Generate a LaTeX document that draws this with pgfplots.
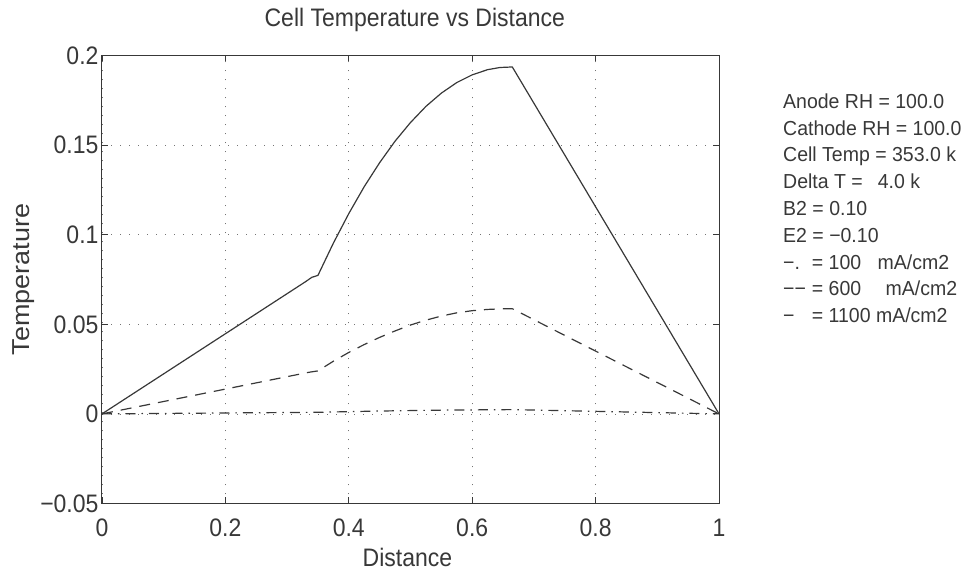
\documentclass[border=0pt]{standalone}
\usepackage{pgfplots}
\pgfplotsset{compat=1.18}
\usepackage{fontspec}
\setmainfont{Liberation Sans}
\definecolor{ink}{gray}{0.22}
\newcommand{\lgfont}{\fontsize{19.5}{23}\selectfont}
\begin{document}
\begin{tikzpicture}
\path[use as bounding box] (0,0) rectangle (964pt,570pt);
\begin{axis}[
  at={(102pt,66.5pt)}, anchor=south west,
  scale only axis, width=617pt, height=448pt,
  xmin=0, xmax=1, ymin=-0.05, ymax=0.2,
  xtick={0,0.2,0.4,0.6,0.8,1},
  xticklabels={0,0.2,0.4,0.6,0.8,1},
  ytick={-0.05,0,0.05,0.1,0.15,0.2},
  yticklabels={−0.05,0,0.05,0.1,0.15,0.2},
  tick align=inside, major tick length=6pt,
  tick style={ink, line width=0.8pt},
  axis line style={ink, line width=1pt},
  grid=major,
  major grid style={ink!70, line width=0.7pt, dash pattern=on 1pt off 8pt},
  ticklabel style={font=\fontsize{23}{27}\selectfont, text=ink, yscale=1.1},
  xticklabel style={anchor=base, yshift=-30pt},
  xlabel={Distance}, ylabel={\scalebox{1.1}[1]{Temperature}},
  xlabel style={font=\fontsize{23}{27}\selectfont, text=ink, at={(0.495,0)}, anchor=base, yshift=-63pt, yscale=1.1},
  ylabel style={font=\fontsize{24.5}{28}\selectfont, text=ink, at={(0,0.5)}, anchor=base, yshift=72pt},
  title={Cell Temperature vs Distance},
  title style={font=\fontsize{23}{27}\selectfont, text=ink, at={(0.507,1)}, anchor=base, yshift=22.5pt, yscale=1.1},
]
% 1100 mA/cm2 (solid)
\addplot[ink, line width=1.2pt] coordinates {
(0,0) (0.33,0.0738) (0.34,0.0762) (0.35,0.0773) (0.375,0.0953) (0.40,0.1118) (0.425,0.1268)
(0.45,0.1402) (0.475,0.1522) (0.50,0.1626) (0.525,0.1716) (0.55,0.1790)
(0.575,0.1849) (0.60,0.1892) (0.625,0.1921) (0.645,0.1933) (0.665,0.1936) (1,0)};
% 600 mA/cm2 (dashed)
\addplot[ink, line width=1.2pt, dash pattern=on 11pt off 8pt] coordinates {
(0,0) (0.335,0.0232) (0.35,0.0240) (0.375,0.0294) (0.40,0.0343) (0.425,0.0387) (0.45,0.0427)
(0.475,0.0463) (0.50,0.0496) (0.525,0.0523) (0.55,0.0546) (0.575,0.0564)
(0.60,0.0576) (0.625,0.0583) (0.645,0.0586) (0.665,0.0587) (1,0)};
% 100 mA/cm2 (dash-dot)
\addplot[ink, line width=1.2pt, dash pattern=on 10pt off 6pt on 1.5pt off 6pt] coordinates {
(0,0) (0.35,0.0009) (0.45,0.0016) (0.55,0.0021) (0.665,0.0024) (1,0)};
\end{axis}
\begin{scope}[every node/.style={anchor=base west, inner sep=0pt, text=ink, font=\lgfont, yscale=1.04}]
\node at (783pt,461.7pt) {Anode RH = 100.0};
\node at (783pt,434.9pt) {Cathode RH = 100.0};
\node at (783pt,408.1pt) {Cell Temp = 353.0 k};
\node at (783pt,381.3pt) {Delta T =\hspace{15pt}4.0 k};
\node at (783pt,354.5pt) {B2 = 0.10};
\node at (783pt,327.7pt) {E2 = −0.10};
\node at (783pt,300.9pt) {\makebox[28.7pt][l]{−.}= \makebox[49pt][l]{100}mA/cm2};
\node at (783pt,274.1pt) {\makebox[28.7pt][l]{−−}= \makebox[57pt][l]{600}mA/cm2};
\node at (783pt,247.3pt) {\makebox[28.7pt][l]{−}= 1100 mA/cm2};
\end{scope}
\end{tikzpicture}
\end{document}
